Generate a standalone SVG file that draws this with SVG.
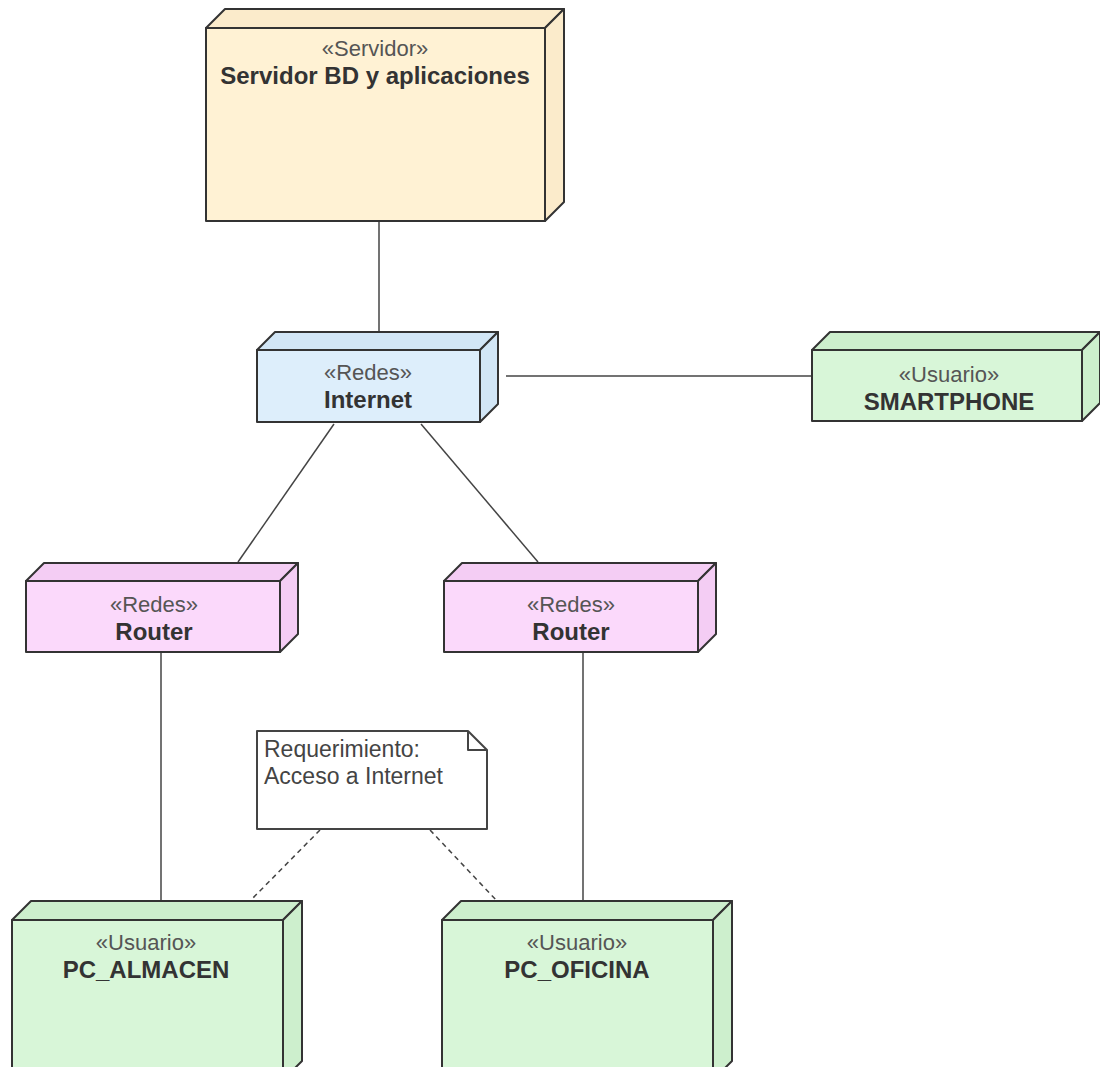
<svg xmlns="http://www.w3.org/2000/svg" width="1100" height="1067" viewBox="0 0 1100 1067">
<style>
.n{stroke:#333;stroke-width:2;stroke-linejoin:round}
.srv{fill:#FFF2D4}
.srv2{fill:#FBEBCB}
.net{fill:#DDEEFB}
.net2{fill:#D2E6F6}
.rt{fill:#FBD9FB}
.rt2{fill:#F4CDF4}
.us{fill:#D8F6D8}
.us2{fill:#CDEFCD}
.st{font-family:"Liberation Sans",Arial,sans-serif;font-size:22px;fill:#555;text-anchor:middle}
.nm{font-family:"Liberation Sans",Arial,sans-serif;font-size:24px;font-weight:bold;fill:#333;text-anchor:middle}
.nt{font-family:"Liberation Sans",Arial,sans-serif;font-size:23px;fill:#444}
.c{stroke:#444;stroke-width:1.5;fill:none}
.d{stroke:#444;stroke-width:1.5;fill:none;stroke-dasharray:5 4}
</style>
<rect width="1100" height="1067" fill="#fff"/>
<g id="connectors">
<line class="c" x1="379" y1="221" x2="379" y2="332"/>
<line class="c" x1="506" y1="376" x2="812" y2="376"/>
<line class="c" x1="334" y1="424" x2="238" y2="562"/>
<line class="c" x1="421" y1="424" x2="538" y2="562"/>
<line class="c" x1="161" y1="652" x2="161" y2="901"/>
<line class="c" x1="583" y1="652" x2="583" y2="901"/>
<line class="d" x1="320" y1="830" x2="250" y2="901"/>
<line class="d" x1="430" y1="830" x2="497" y2="901"/>
</g>
<g id="servidor">
<polygon class="n srv2" points="206,28 225,9 564,9 545,28"/>
<polygon class="n srv2" points="545,28 564,9 564,202 545,221"/>
<rect class="n srv" x="206" y="28" width="339" height="193"/>
<text class="st" x="375" y="56">«Servidor»</text>
<text class="nm" x="375" y="84">Servidor BD y aplicaciones</text>
</g>
<g id="internet">
<polygon class="n net2" points="257,350 275,332 498,332 480,350"/>
<polygon class="n net2" points="480,350 498,332 498,404 480,422"/>
<rect class="n net" x="257" y="350" width="223" height="72"/>
<text class="st" x="368" y="380">«Redes»</text>
<text class="nm" x="368" y="408">Internet</text>
</g>
<g id="smartphone">
<polygon class="n us2" points="812,350 830,332 1100,332 1082,350"/>
<polygon class="n us2" points="1082,350 1100,332 1100,403 1082,421"/>
<rect class="n us" x="812" y="350" width="270" height="71"/>
<text class="st" x="949" y="382">«Usuario»</text>
<text class="nm" x="949" y="410">SMARTPHONE</text>
</g>
<g id="router1">
<polygon class="n rt2" points="26,581 44,563 298,563 280,581"/>
<polygon class="n rt2" points="280,581 298,563 298,634 280,652"/>
<rect class="n rt" x="26" y="581" width="254" height="71"/>
<text class="st" x="154" y="612">«Redes»</text>
<text class="nm" x="154" y="640">Router</text>
</g>
<g id="router2">
<polygon class="n rt2" points="444,581 462,563 716,563 698,581"/>
<polygon class="n rt2" points="698,581 716,563 716,634 698,652"/>
<rect class="n rt" x="444" y="581" width="254" height="71"/>
<text class="st" x="571" y="612">«Redes»</text>
<text class="nm" x="571" y="640">Router</text>
</g>
<g id="note">
<path d="M257,731 L468,731 L487,750 L487,829 L257,829 Z" fill="#fff" stroke="#444" stroke-width="2" stroke-linejoin="round"/>
<path d="M468,731 L468,750 L487,750" fill="none" stroke="#444" stroke-width="2" stroke-linejoin="round"/>
<text class="nt" x="264" y="757">Requerimiento:</text>
<text class="nt" x="264" y="784">Acceso a Internet</text>
</g>
<g id="pc_almacen">
<polygon class="n us2" points="12,920 31,901 302,901 283,920"/>
<polygon class="n us2" points="283,920 302,901 302,1061 283,1080"/>
<rect class="n us" x="12" y="920" width="271" height="160"/>
<text class="st" x="146" y="950">«Usuario»</text>
<text class="nm" x="146" y="978">PC_ALMACEN</text>
</g>
<g id="pc_oficina">
<polygon class="n us2" points="442,920 461,901 732,901 713,920"/>
<polygon class="n us2" points="713,920 732,901 732,1061 713,1080"/>
<rect class="n us" x="442" y="920" width="271" height="160"/>
<text class="st" x="577" y="950">«Usuario»</text>
<text class="nm" x="577" y="978">PC_OFICINA</text>
</g>
</svg>
